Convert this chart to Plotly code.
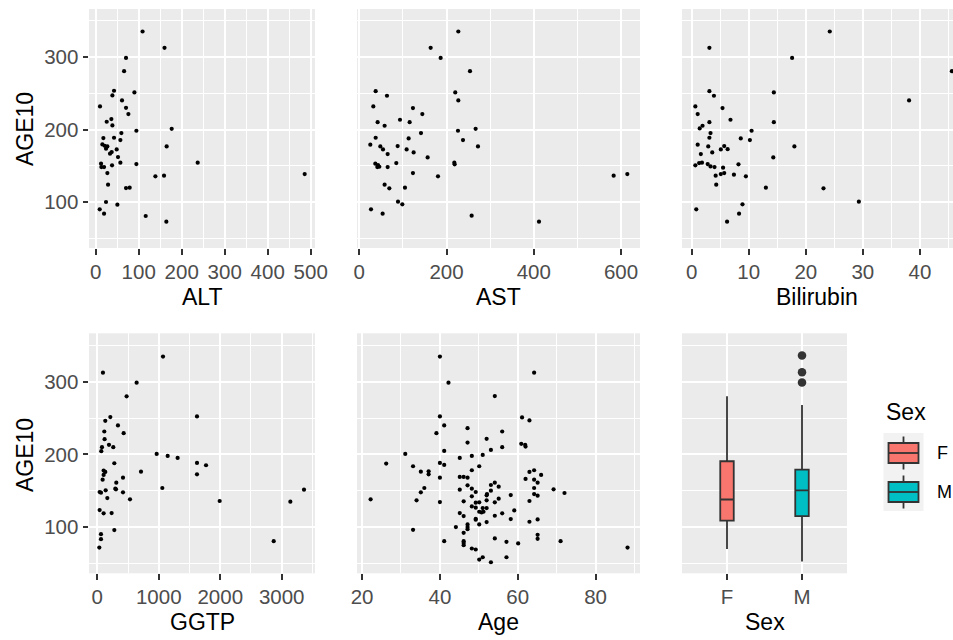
import plotly.graph_objects as go

W, H = 953, 640

# ---------------- data ----------------
alt_x = [109, 160, 70.5, 66, 42.6, 90, 38.8, 61.2, 10, 70.5, 76, 36.4, 25.6, 38.8, 94.6, 59.7,
         17.8, 42.6, 57.4, 15.5, 20.9, 27.1, 165, 176.7, 24, 48.8, 37.2, 33.3, 51.9, 57.4, 237.2,
         12.4, 94.6, 38, 13.2, 19.4, 27.1, 486, 138.8, 158.9, 28.7, 70.5, 79, 24, 50.4, 9.3, 19.4,
         116.3, 164.3]
alt_y = [335.4, 312.9, 299, 280.7, 253.6, 251.3, 247.1, 240.2, 232, 230.1, 221.4, 214.5, 210.8,
         205.7, 198.4, 195.2, 188.3, 188.7, 185.5, 179.5, 177.7, 176.8, 176.8, 201.1, 173.6, 172.6,
         169, 166.7, 162.1, 154.3, 154.3, 152.9, 152.4, 150.6, 148.3, 148.3, 140, 138.6, 135.4,
         136.3, 123.9, 119.3, 119.8, 100, 96.3, 89.9, 83.9, 80.7, 72.9]

ast_x = [227, 163.6, 186.5, 253.8, 37.5, 220, 63.4, 227, 32.1, 123, 144.5, 93.3, 42, 115.4, 58,
         266.7, 226.2, 141.4, 37.5, 113.1, 237.7, 25.2, 48.2, 87.9, 272.1, 54.3, 108.5, 65, 124.6,
         156.7, 36.7, 42.8, 45.9, 41.3, 65, 84.8, 217.8, 218.6, 123, 180.4, 583.2, 614.5, 58, 68.8,
         104.7, 88.7, 98.6, 26.8, 53.5, 257.6, 412]
ast_y = [335.4, 312.9, 299, 280.7, 253.1, 251.3, 246.7, 240.2, 232, 229.7, 221.4, 213.6, 210.3,
         210.3, 205.3, 201.1, 198.4, 195.2, 188.7, 187.8, 185.5, 179.1, 176.8, 177.2, 176.8, 172.6,
         172.6, 166.2, 168.5, 161.6, 152.9, 151, 148.7, 148.3, 148.3, 153.8, 154.3, 152, 140, 135.4,
         136.3, 138.6, 123.9, 118.9, 119.8, 100.5, 96.8, 89.9, 83.9, 81.1, 72.9]

bili_x = [24.2, 3.1, 17.6, 45.6, 3.1, 14.4, 3.9, 38.1, 0.64, 5.4, 1.05, 6.8, 3.1, 14.4, 1.9, 1.4,
          10.5, 3.3, 3.1, 8.6, 10.2, 1.05, 2.9, 5.7, 18, 5.1, 6.3, 3.6, 1.6, 14.3, 1.3, 1.8, 8.2,
          2.8, 0.64, 3.3, 4, 5.5, 5.7, 5.1, 4.2, 7.4, 9.5, 13, 23.1, 4.3, 8.9, 29.3, 0.8, 8.3, 6.2]
bili_y = [335.4, 312.9, 299, 280.7, 253.1, 251.3, 246.7, 240.2, 232, 229.7, 221.4, 213.6, 210.3,
          210.3, 205.3, 201.6, 198.4, 195.2, 188.7, 187.8, 185.5, 179.1, 176.8, 177.2, 176.8, 172.6,
          173, 168.5, 166.2, 161.6, 153.8, 154.3, 152, 152.4, 150.6, 149.2, 148.3, 147.4, 140,
          138.6, 136.3, 137.7, 135.4, 119.8, 118.9, 123.9, 96.8, 100.5, 89.9, 83.9, 72.9]

ggtp_x = [1069, 92, 640, 477, 1622, 212, 130, 336, 429, 114, 119, 190, 76, 260, 65, 966, 1145,
          1307, 277, 1622, 1769, 711, 103, 130, 103, 1622, 418, 87, 309, 293, 304, 1058, 38, 60,
          136, 418, 3363, 163, 532, 1991, 3141, 38, 103, 233, 277, 60, 60, 2870, 33]
ggtp_y = [334.5, 312.4, 298.6, 279.8, 252.2, 251.3, 246.2, 239.8, 229.2, 231.5, 220.9, 213.1,
          209.9, 209.9, 204.4, 200.7, 197.9, 195.2, 187.8, 188.3, 185.1, 176.3, 177.7, 175.9, 171.7,
          172.6, 168, 165.3, 161.1, 152.9, 151.9, 153.8, 148.3, 147.4, 150.6, 147.8, 151.5, 140,
          138.2, 135.9, 135, 123.4, 118.9, 119.3, 95.9, 90.3, 83.4, 80.7, 71.9]

age_x = [40, 64.2, 42.2, 54.1, 40, 61.1, 63, 41.1, 47.1, 39.1, 56, 52, 47.1, 60.9, 61.9, 62, 56,
         53.1, 41.1, 31.1, 51, 48.2, 45.1, 26.2, 40, 41.1, 33.1, 50.1, 35.1, 37.1, 37.1, 48.2, 64.2,
         63, 66, 45.1, 46.1, 47.1, 40, 62, 64.2, 54.1, 65.1, 53.1, 55.1, 47.1, 48.2, 36, 64.2, 69.2,
         45.1, 53.1, 49.2, 35.1, 72, 52.1, 52, 64.2, 65.1, 58.2, 48.2, 22.2, 34, 40, 46.1, 52, 55.1,
         54.1, 63, 50.1, 49.2, 48.2, 49.2, 51, 52, 50.1, 50.7, 51.2, 59.1, 45.1, 46.1, 54.1, 56,
         49.2, 49.2, 58.2, 65.1, 52, 50.1, 63, 47.1, 47.1, 47.1, 44.1, 33.1, 46.1, 65.1, 65.1, 54.1,
         41.1, 46.1, 46.1, 46.1, 57.1, 60.1, 71, 48.2, 49.2, 88.2, 51, 50.1, 57.1, 53.1]
age_y = [334.5, 312.4, 298.6, 280.2, 252.2, 250.8, 246.7, 239.8, 236.1, 229.2, 231.5, 221.4, 216.3,
         214.5, 213.1, 210.8, 209.9, 206.2, 204.8, 200.7, 199.3, 197.9, 195.2, 187.4, 188.3, 185.5,
         183.7, 183.7, 176.3, 176.8, 172.6, 178.2, 178.2, 175.9, 171.7, 169, 169, 168, 168, 166.2,
         165.3, 161.1, 161.1, 157.9, 155.6, 157.5, 152.9, 153.8, 153.8, 152, 151.5, 150.1, 148.3,
         147.8, 146.9, 145.5, 143.7, 145.5, 143.2, 144.1, 142.3, 138.2, 136.8, 134.5, 135.4, 136.8,
         139.1, 134.1, 135.9, 134.1, 133.6, 128.5, 126.7, 126.2, 126.2, 121.1, 120.2, 121.1, 123,
         119.3, 115.2, 115.6, 118.9, 111.5, 110.1, 111, 110.6, 106.9, 103.7, 107.4, 103.7, 100,
         97.2, 100, 96.3, 92.2, 89.4, 83.9, 84.4, 80.7, 80.7, 78, 75.2, 79.8, 77.6, 80.7, 70.6,
         69.2, 71.9, 58.6, 55.4, 58.6, 51.7]

sex_levels = ["F", "M"]
box_q1 = [109, 115]
box_median = [138, 150.6]
box_q3 = [190.6, 179]
box_lower = [70, 52.7]
box_upper = [280, 268]
box_colors = ["#F8766D", "#00BFC4"]
outlier_sex = ["M", "M", "M"]
outlier_y = [336, 313, 299]

# ---------------- layout helpers ----------------
FONT = "Liberation Sans, Arial, sans-serif"
TICK_FONT = dict(family=FONT, size=20.5, color="#4D4D4D")
TITLE_FONT = dict(family=FONT, size=23, color="black")
PANEL_BG = "#EBEBEB"


def px(x):
    return x / W


def py(y):
    return 1 - y / H


top_dom = [py(248), py(9)]
bot_dom = [py(573.3), py(333.3)]
col_dom = {
    1: [px(89), px(315)], 2: [px(357), px(640)], 3: [px(682), px(953)],
    4: [px(89), px(315)], 5: [px(357), px(640)], 6: [px(682), px(847)],
}
x_ranges = {1: [-15.6, 510], 2: [-5.3, 643.6], 3: [-1.7, 45.8], 4: [-135, 3542], 5: [18.7, 91.4]}
x_dtick = {1: (100, 50, 0), 2: (200, 100, 0), 3: (10, 5, 0), 4: (1000, 500, 0), 5: (20, 10, 20)}
Y_RANGE = [36.5, 366.5]

fig = go.Figure()

panels = [(1, alt_x, alt_y), (2, ast_x, ast_y), (3, bili_x, bili_y),
          (4, ggtp_x, ggtp_y), (5, age_x, age_y)]
for i, xs, ys in panels:
    sfx = "" if i == 1 else str(i)
    fig.add_trace(go.Scatter(x=xs, y=ys, mode="markers", xaxis="x" + sfx, yaxis="y" + sfx,
                             marker=dict(color="black", size=4.2, line=dict(width=0)),
                             showlegend=False, hoverinfo="x+y"))

for k, lev in enumerate(sex_levels):
    fig.add_trace(go.Box(x=[lev], q1=[box_q1[k]], median=[box_median[k]], q3=[box_q3[k]],
                         lowerfence=[box_lower[k]], upperfence=[box_upper[k]],
                         fillcolor=box_colors[k], line=dict(color="#333333", width=1.8),
                         width=0.18, whiskerwidth=0, boxpoints=False,
                         xaxis="x6", yaxis="y6", showlegend=False, name=lev))
fig.add_trace(go.Scatter(x=outlier_sex, y=outlier_y, mode="markers", xaxis="x6", yaxis="y6",
                         marker=dict(color="#333333", size=8.5), showlegend=False))

layout = dict(width=W, height=H, margin=dict(l=0, r=0, t=0, b=0, autoexpand=False),
              paper_bgcolor="white", plot_bgcolor=PANEL_BG, boxmode="overlay",
              font=dict(family=FONT))

for i in range(1, 7):
    sfx = "" if i == 1 else str(i)
    xa = dict(domain=col_dom[i], anchor="y" + sfx, showline=False, zeroline=False,
              showgrid=True, gridcolor="white", gridwidth=2, automargin=False,
              ticks="outside", ticklen=5.5, tickwidth=1.8, tickcolor="#333333",
              tickfont=TICK_FONT, fixedrange=True)
    if i <= 5:
        d, md, t0 = x_dtick[i]
        xa.update(range=x_ranges[i], tickmode="linear", dtick=d, tick0=t0,
                  minor=dict(dtick=md, tick0=t0, showgrid=True, gridcolor="white",
                             gridwidth=1, ticks=""))
    else:
        xa.update(type="category", categoryorder="array", categoryarray=sex_levels,
                  range=[-0.6, 1.6])
    ya = dict(domain=top_dom if i <= 3 else bot_dom, anchor="x" + sfx, range=Y_RANGE,
              showline=False, zeroline=False, showgrid=True, gridcolor="white", gridwidth=2,
              tickmode="linear", dtick=100, tick0=0, automargin=False,
              minor=dict(dtick=50, tick0=0, showgrid=True, gridcolor="white", gridwidth=1,
                         ticks=""),
              fixedrange=True)
    if i in (1, 4):
        ya.update(ticks="outside", ticklen=5.5, tickwidth=1.8, tickcolor="#333333",
                  tickfont=TICK_FONT, showticklabels=True)
    else:
        ya.update(ticks="", showticklabels=False)
    layout["xaxis" + sfx] = xa
    layout["yaxis" + sfx] = ya

fig.update_layout(**layout)

# axis titles
titles = [("ALT", 202, 297), ("AST", 498.5, 297), ("Bilirubin", 817, 297),
          ("GGTP", 202, 622), ("Age", 498.5, 622), ("Sex", 764.5, 622)]
for txt, cx, cy in titles:
    fig.add_annotation(text=txt, x=px(cx), y=py(cy), xref="paper", yref="paper",
                       xanchor="center", yanchor="middle", showarrow=False, font=TITLE_FONT)
for cy in (129, 455):
    fig.add_annotation(text="AGE10", x=px(25), y=py(cy), xref="paper", yref="paper",
                       xanchor="center", yanchor="middle", showarrow=False, textangle=-90,
                       font=TITLE_FONT)

# legend (drawn manually, ggplot style)
fig.add_annotation(text="Sex", x=px(884), y=py(412), xref="paper", yref="paper",
                   xanchor="left", yanchor="middle", showarrow=False, font=TITLE_FONT)
fig.add_shape(type="rect", xref="paper", yref="paper", x0=px(883.5), x1=px(923.5),
              y0=py(511), y1=py(433), fillcolor="#F2F2F2", line=dict(width=0), layer="below")
key_centers = [453, 492]
for k, lev in enumerate(sex_levels):
    c = key_centers[k]
    fig.add_shape(type="line", xref="paper", yref="paper", x0=px(903.5), x1=px(903.5),
                  y0=py(c - 16.5), y1=py(c + 16.5), line=dict(color="#333333", width=1.8))
    fig.add_shape(type="rect", xref="paper", yref="paper", x0=px(888.5), x1=px(918.5),
                  y0=py(c + 10), y1=py(c - 10), fillcolor=box_colors[k],
                  line=dict(color="#333333", width=1.8))
    fig.add_shape(type="line", xref="paper", yref="paper", x0=px(888.5), x1=px(918.5),
                  y0=py(c), y1=py(c), line=dict(color="#333333", width=1.8))
    fig.add_annotation(text=lev, x=px(935), y=py(c), xref="paper", yref="paper",
                       xanchor="left", yanchor="middle", showarrow=False,
                       font=dict(family=FONT, size=18, color="black"))

fig.write_html("out.html")
